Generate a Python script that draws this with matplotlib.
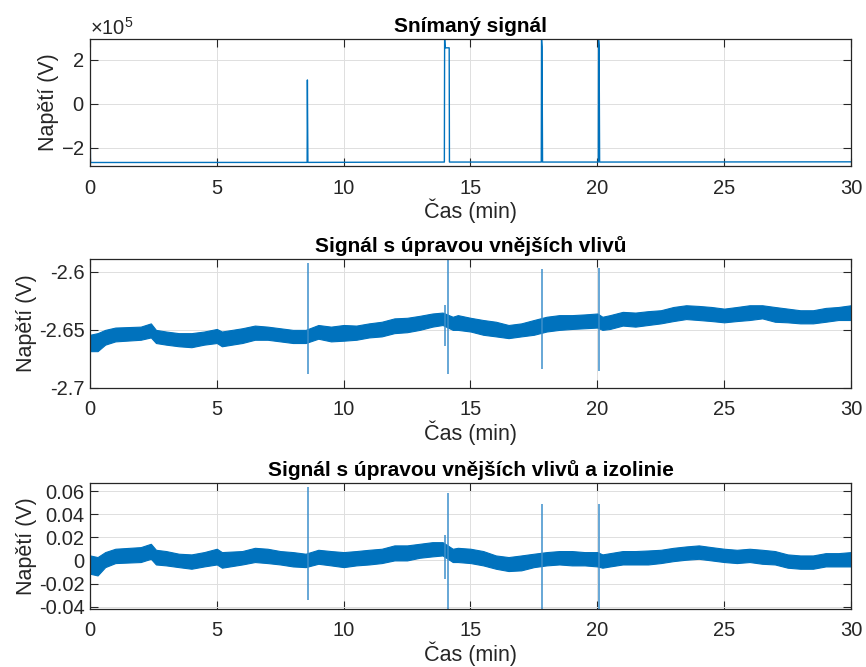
import matplotlib
matplotlib.use("Agg")
import matplotlib.pyplot as plt
from matplotlib.ticker import ScalarFormatter, FormatStrFormatter

plt.rcParams['font.family'] = ['Liberation Sans', 'DejaVu Sans']
plt.rcParams['mathtext.fontset'] = 'custom'
plt.rcParams['mathtext.rm'] = 'Liberation Sans'
plt.rcParams['axes.unicode_minus'] = False

# --- raw signal (V) ---
raw_t = [0, 0.02, 8.56, 8.57, 8.59, 13.97, 13.98, 14.0, 14.16, 14.17,
         17.79, 17.80, 17.82, 17.84, 20.04, 20.05, 20.07, 20.09, 30]
raw_v = [0.15e5, -2.66e5, -2.655e5, 1.09e5, -2.655e5, -2.64e5, 2.98e5, 2.55e5, 2.55e5, -2.64e5,
         -2.64e5, 2.98e5, 2.6e5, -2.64e5, -2.64e5, 2.9e5, 2.6e5, -2.64e5, -2.63e5]

# --- signal after external-influence correction: noise band (lower/upper) ---
band_t = [0.0, 0.3, 0.6, 1.0, 2.0, 2.4, 2.6, 3.0, 3.5, 4.0, 4.5, 5.0, 5.2, 6.0, 6.5, 7.0,
          7.5, 8.0, 8.5, 9.0, 9.5, 10.0, 10.5, 11.0, 11.5, 12.0, 12.5, 13.0, 13.5, 13.9,
          14.3, 14.5, 15.0, 15.5, 16.0, 16.5, 17.0, 17.5, 18.0, 18.5, 19.0, 19.5, 20.0,
          20.2, 20.5, 21.0, 21.5, 22.0, 22.5, 23.0, 23.5, 24.0, 24.5, 25.0, 25.5, 26.0,
          26.5, 27.0, 27.5, 28.0, 28.5, 29.0, 29.5, 30.0]
corr_hi = [-2.6542, -2.6528, -2.6500, -2.6480, -2.6472, -2.6444, -2.6500, -2.6514, -2.6528,
           -2.6528, -2.6514, -2.6492, -2.6514, -2.6486, -2.6463, -2.6472, -2.6486, -2.6500,
           -2.6500, -2.6458, -2.6472, -2.6458, -2.6463, -2.6444, -2.6430, -2.6401, -2.6396,
           -2.6379, -2.6359, -2.6351, -2.6387, -2.6373, -2.6396, -2.6415, -2.6430, -2.6458,
           -2.6444, -2.6415, -2.6387, -2.6373, -2.6373, -2.6367, -2.6359, -2.6387, -2.6373,
           -2.6345, -2.6351, -2.6339, -2.6331, -2.6303, -2.6288, -2.6294, -2.6303, -2.6317,
           -2.6303, -2.6288, -2.6288, -2.6303, -2.6317, -2.6331, -2.6331, -2.6311, -2.6303,
           -2.6288]
corr_lo = [-2.6683, -2.6683, -2.6627, -2.6599, -2.6585, -2.6565, -2.6613, -2.6627, -2.6641,
           -2.6649, -2.6627, -2.6613, -2.6641, -2.6613, -2.6585, -2.6585, -2.6599, -2.6613,
           -2.6613, -2.6576, -2.6599, -2.6593, -2.6585, -2.6565, -2.6556, -2.6528, -2.6520,
           -2.6500, -2.6472, -2.6458, -2.6500, -2.6500, -2.6514, -2.6542, -2.6556, -2.6571,
           -2.6556, -2.6542, -2.6514, -2.6500, -2.6492, -2.6486, -2.6480, -2.6500, -2.6492,
           -2.6463, -2.6472, -2.6458, -2.6444, -2.6424, -2.6407, -2.6415, -2.6424, -2.6435,
           -2.6424, -2.6415, -2.6401, -2.6430, -2.6435, -2.6444, -2.6444, -2.6430, -2.6415,
           -2.6415]

# --- signal after correction and isoline removal ---
iso_hi = [0.0043, 0.0029, 0.0072, 0.0101, 0.0115, 0.0144, 0.0092, 0.0081, 0.0058, 0.0052,
          0.0072, 0.0101, 0.0072, 0.0081, 0.0109, 0.0101, 0.0081, 0.0072, 0.0058, 0.0092,
          0.0081, 0.0072, 0.0081, 0.0092, 0.0101, 0.0130, 0.0130, 0.0144, 0.0158, 0.0158,
          0.0101, 0.0109, 0.0101, 0.0081, 0.0043, 0.0029, 0.0043, 0.0058, 0.0072, 0.0081,
          0.0081, 0.0072, 0.0072, 0.0052, 0.0063, 0.0081, 0.0081, 0.0086, 0.0092, 0.0109,
          0.0121, 0.0130, 0.0115, 0.0101, 0.0092, 0.0101, 0.0092, 0.0081, 0.0052, 0.0043,
          0.0043, 0.0063, 0.0063, 0.0072]
iso_lo = [-0.0115, -0.0130, -0.0058, -0.0023, -0.0014, 0.0014, -0.0035, -0.0043, -0.0058,
          -0.0072, -0.0052, -0.0035, -0.0063, -0.0035, -0.0014, -0.0023, -0.0035, -0.0052,
          -0.0058, -0.0029, -0.0043, -0.0058, -0.0043, -0.0035, -0.0023, 0.0000, 0.0000,
          0.0023, 0.0035, 0.0043, -0.0014, -0.0014, -0.0023, -0.0043, -0.0072, -0.0092,
          -0.0086, -0.0058, -0.0043, -0.0035, -0.0043, -0.0043, -0.0052, -0.0063, -0.0052,
          -0.0035, -0.0035, -0.0035, -0.0023, -0.0006, 0.0006, 0.0014, 0.0000, -0.0014,
          -0.0023, -0.0014, -0.0029, -0.0035, -0.0063, -0.0072, -0.0072, -0.0052, -0.0052,
          -0.0052]

# spikes (time, top, bottom)
spike_t = [0.0, 8.59, 14.0, 14.13, 17.8, 20.08]
corr_spike_hi = [-2.585, -2.5922, -2.6283, -2.589, -2.5978, -2.5964]
corr_spike_lo = [-2.672, -2.688, -2.6641, -2.688, -2.6838, -2.6853]
iso_spike_hi = [0.07, 0.0634, 0.0216, 0.0582, 0.0484, 0.0484]
iso_spike_lo = [-0.013, -0.0346, -0.0158, -0.045, -0.045, -0.045]

titles = ['Snímaný signál', 'Signál s úpravou vnějších vlivů',
          'Signál s úpravou vnějších vlivů a izolinie']

blue = '#0072BD'
spike_blue = '#3d8fcb'
dark = '#262626'

fig = plt.figure(figsize=(8.66, 6.67), dpi=100)
ax1 = fig.add_axes([0.1039, 0.7511, 0.8788, 0.1904])
ax2 = fig.add_axes([0.1039, 0.4183, 0.8788, 0.1934])
ax3 = fig.add_axes([0.1039, 0.0870, 0.8788, 0.1889])

ax1.plot(raw_t, raw_v, color=blue, lw=1.0)
ax1.set_ylim(-2.82e5, 2.95e5)
ax1.set_yticks([-2e5, 0, 2e5])
fmt = ScalarFormatter(useMathText=True)
fmt.set_powerlimits((0, 0))
ax1.yaxis.set_major_formatter(fmt)

ax2.fill_between(band_t, corr_lo, corr_hi, color=blue, lw=0.8, edgecolor=blue)
ax2.vlines(spike_t, corr_spike_lo, corr_spike_hi, color=spike_blue, lw=1.1)
ax2.set_ylim(-2.7, -2.589)
ax2.set_yticks([-2.7, -2.65, -2.6])
ax2.yaxis.set_major_formatter(FormatStrFormatter('%g'))

ax3.fill_between(band_t, iso_lo, iso_hi, color=blue, lw=0.8, edgecolor=blue)
ax3.vlines(spike_t, iso_spike_lo, iso_spike_hi, color=spike_blue, lw=1.1)
ax3.set_ylim(-0.042, 0.067)
ax3.set_yticks([-0.04, -0.02, 0, 0.02, 0.04, 0.06])
ax3.yaxis.set_major_formatter(FormatStrFormatter('%g'))

for ax, title, lp in zip([ax1, ax2, ax3], titles, [1, 1, 1]):
    ax.set_xlim(0, 30)
    ax.set_xticks([0, 5, 10, 15, 20, 25, 30])
    ax.grid(True, color='#dedede', lw=0.7)
    ax.set_axisbelow(True)
    for s in ax.spines.values():
        s.set_color(dark)
        s.set_linewidth(0.9)
    ax.tick_params(direction='in', length=5.5, width=0.8, colors=dark,
                   labelsize=14.5, top=True, right=True)
    ax.tick_params(axis='x', pad=9)
    ax.tick_params(axis='y', pad=4)
    ax.set_title(title, fontsize=15, fontweight='bold', pad=5, color='black')
    ax.set_xlabel('Čas (min)', fontsize=15.5, color=dark, labelpad=1)
    ax.set_ylabel('Napětí (V)', fontsize=15.5, color=dark, labelpad=lp)

ax1.yaxis.get_offset_text().set_fontsize(14.5)
ax1.yaxis.get_offset_text().set_color(dark)

fig.savefig('out.png', dpi=100)
